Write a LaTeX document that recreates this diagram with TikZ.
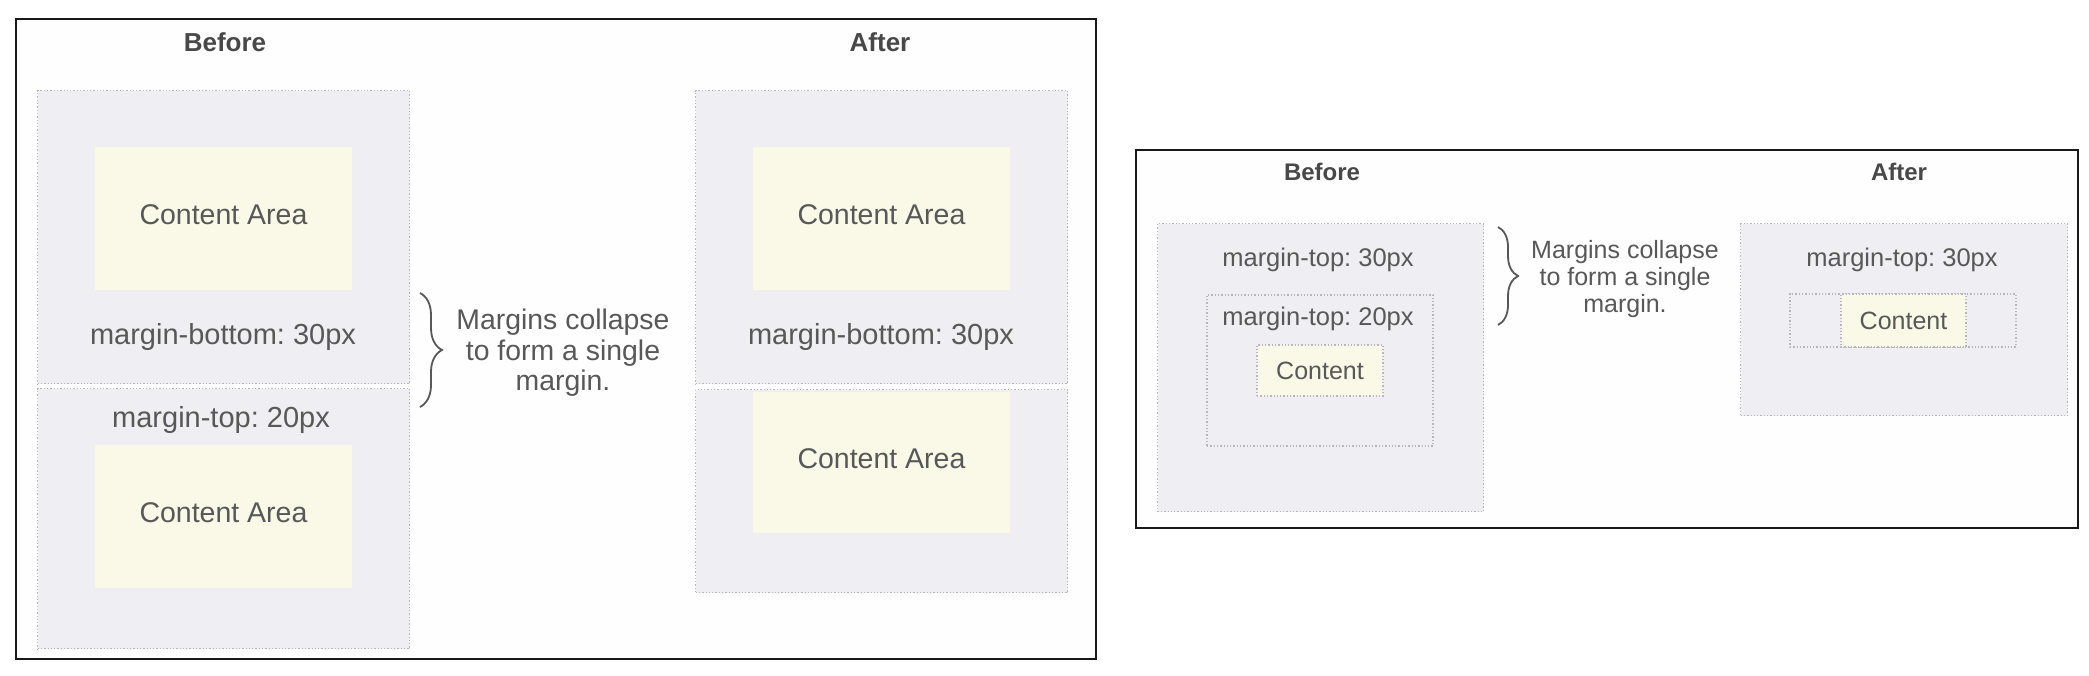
\documentclass[tikz,border=0pt]{standalone}
\usepackage{fontspec}
\setmainfont{Liberation Sans}
\frenchspacing
\usetikzlibrary{positioning,decorations.pathreplacing}
\definecolor{boxgray}{RGB}{238,238,243}
\definecolor{boxline}{RGB}{182,182,188}
\definecolor{paperyellow}{RGB}{250,248,230}
\definecolor{txtgray}{RGB}{88,88,88}
\definecolor{headgray}{RGB}{72,72,72}

\begin{document}
\begin{tikzpicture}
[
x=1pt, y=-1pt,
frame/.style={draw=black!90, line width=2.2pt, fill=white!99.5!black},
margin_box/.style={rectangle, draw=boxline, dotted, line width=1.3pt, fill=boxgray, inner sep=0, anchor=north west},
inner_box/.style={rectangle, draw=boxline, dotted, line width=1.3pt, fill=boxgray, inner sep=0},
content_big/.style={rectangle, fill=paperyellow, inner sep=0, text depth=7pt, text=txtgray, font=\fontsize{28.5}{34}\selectfont},
content_small/.style={rectangle, draw=boxline, dotted, line width=1.3pt, fill=paperyellow, inner sep=0, text=txtgray, font=\fontsize{25}{30}\selectfont},
label_big/.style={text=txtgray, font=\fontsize{29}{34}\selectfont},
label_small/.style={text=txtgray, font=\fontsize{25.5}{30}\selectfont},
head_big/.style={text=headgray, font=\bfseries\fontsize{26}{30}\selectfont},
head_small/.style={text=headgray, font=\bfseries\fontsize{24}{28}\selectfont},
note_big/.style={text=txtgray, align=center, font=\fontsize{28.4}{30.5}\selectfont},
note_small/.style={text=txtgray, align=center, font=\fontsize{25}{27}\selectfont},
brace_line/.style={draw=txtgray, line width=1.8pt, decorate, decoration={brace, amplitude=#1}}
]
\useasboundingbox (0,0) rectangle (2089,676);
\fill[white] (0,0) rectangle (2089,676);

%Frames
\draw[frame] (16,19) rectangle (1096,659);
\draw[frame] (1136,150) rectangle (2078,528);

%Nodes: margin-bottom vs margin-top
\node[head_big]     (before_l)  at (225,42)     {Before};
\node[head_big]     (after_l)   at (880,42)     {After};
\node[margin_box, minimum width=372pt, minimum height=293pt]    (b_top)     at (37,90)      {};
\node[margin_box, minimum width=372pt, minimum height=260pt]    (b_low)     at (37,388)     {};
\node[content_big, minimum width=257pt, minimum height=143pt]   (b_cont1)   at (223.5,218.5) {Content Area};
\node[label_big]    (b_mb)      at (223,337)    {margin-bottom: 30px};
\node[label_big]    (b_mt)      at (221,420)    {margin-top: 20px};
\node[content_big, minimum width=257pt, minimum height=143pt]   (b_cont2)   at (223.5,516.5) {Content Area};

\node[margin_box, minimum width=372pt, minimum height=293pt]    (a_top)     at (695,90)     {};
\node[margin_box, minimum width=372pt, minimum height=203pt]    (a_low)     at (695,389)    {};
\node[content_big, minimum width=257pt, minimum height=143pt]   (a_cont1)   at (881.5,218.5) {Content Area};
\node[label_big]    (a_mb)      at (881,337)    {margin-bottom: 30px};
\node[content_big, minimum width=257pt, minimum height=141pt]   (a_cont2)   at (881.5,462.5) {Content Area};

\coordinate (lb_top) at (420,293);
\coordinate (lb_bot) at (420,407);
\node[note_big]     (l_note)    at (563,353)    {Margins collapse\\to form a single\\margin.};

%Nodes: nested margin-top
\node[head_small]   (before_r)  at (1322,172)   {Before};
\node[head_small]   (after_r)   at (1899,172)   {After};
\node[margin_box, minimum width=326pt, minimum height=288pt]    (rb_out)    at (1157,223)   {};
\node[label_small]  (rb_mt30)   at (1318,260)   {margin-top: 30px};
\node[inner_box, minimum width=226pt, minimum height=151pt]     (rb_in)     at (1320,370.5) {};
\node[label_small]  (rb_mt20)   [below=28pt of rb_mt30]         {margin-top: 20px};
\node[content_small, minimum width=126pt, minimum height=51pt]  (rb_cont)   at (1320,370.5) {Content};

\node[margin_box, minimum width=327pt, minimum height=192pt]    (ra_out)    at (1740,223)   {};
\node[label_small]  (ra_mt30)   at (1902,260)   {margin-top: 30px};
\node[inner_box, minimum width=226pt, minimum height=53pt]      (ra_in)     at (1903,320.5) {};
\node[content_small, minimum width=125pt, minimum height=53pt]  (ra_cont)   at (1903.5,320.5) {Content};

\coordinate (rb_top) at (1498,227);
\coordinate (rb_bot) at (1498,325);
\node[note_small]   (r_note)    at (1625,279)   {Margins collapse\\to form a single\\margin.};

%Lines
\draw[brace_line=22pt] (lb_top) -- (lb_bot);
\draw[brace_line=20pt] (rb_top) -- (rb_bot);

\end{tikzpicture}
\end{document}
